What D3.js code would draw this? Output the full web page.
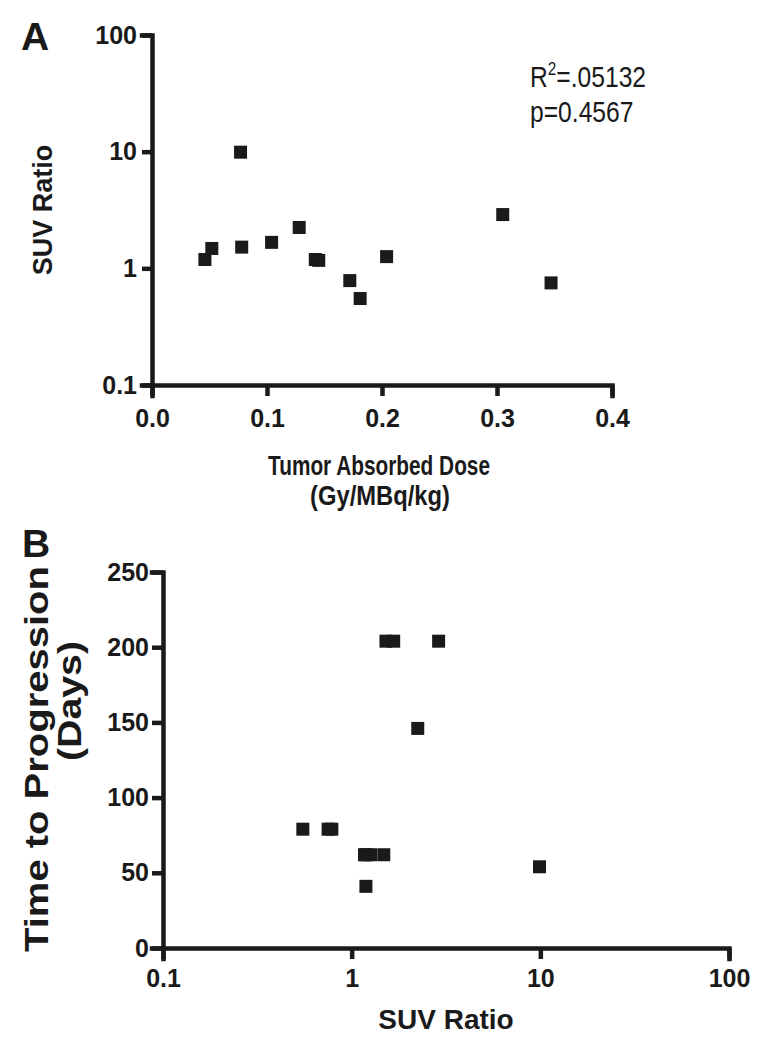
<!DOCTYPE html>
<html>
<head>
<meta charset="utf-8">
<script src="https://cdnjs.cloudflare.com/ajax/libs/d3/7.8.5/d3.min.js"></script>
<style>
  html, body { margin: 0; padding: 0; background: #fff; }
  svg { display: block; }
  text { font-family: "Liberation Sans", Arial, sans-serif; fill: #1a1a1a; }
</style>
</head>
<body>
<svg id="chart" width="767" height="1050"></svg>
<script>
// ---- Panel A data: tumor absorbed dose vs SUV ratio ----
const doseA = [0.046, 0.052, 0.077, 0.078, 0.104, 0.128, 0.142, 0.145, 0.172, 0.181, 0.204, 0.305, 0.347];
const suvA  = [1.19, 1.48, 9.9, 1.52, 1.67, 2.24, 1.19, 1.17, 0.785, 0.551, 1.26, 2.89, 0.75];
const ticksAx = [0.0, 0.1, 0.2, 0.3, 0.4];
const ticksAy = [0.1, 1, 10, 100];
const statsA = ["R", "2", "=.05132", "p=0.4567"];

// ---- Panel B data: SUV ratio vs time to progression ----
const suvB = [0.551, 0.75, 0.785, 1.17, 1.19, 1.26, 1.48, 1.19, 1.52, 1.67, 2.89, 2.24, 9.9];
const ttpB = [79, 79, 79, 62, 62, 62, 62, 41, 204, 204, 204, 146, 54];
const ticksBx = [0.1, 1, 10, 100];
const ticksBy = [0, 50, 100, 150, 200, 250];

const ink = "#1a1a1a";
const svg = d3.select("#chart");
const logFmt = d => d < 1 ? d3.format(".1f")(d) : d3.format("d")(d);

function styleAxis(g, fontSize) {
  g.select(".domain").attr("stroke", ink).attr("stroke-width", 4.5).attr("stroke-linecap", "square");
  g.selectAll(".tick line").attr("stroke", ink).attr("stroke-width", 4.5);
  g.selectAll(".tick text").attr("fill", ink).style("font-size", fontSize + "px")
    .style("font-weight", "bold").style("font-family", '"Liberation Sans", Arial, sans-serif');
}

// ===== Panel A =====
const xA = d3.scaleLinear().domain([0, 0.4]).range([152, 612]);
const yA = d3.scaleLog().domain([0.1, 100]).range([385, 35]);

svg.append("g").attr("transform", `translate(0,${yA(0.1)})`)
  .call(d3.axisBottom(xA).tickValues(ticksAx).tickFormat(d3.format(".1f")).tickSizeOuter(0).tickSize(11).tickPadding(13))
  .call(g => styleAxis(g, 25));
svg.append("g").attr("transform", `translate(${xA(0)},0)`)
  .call(d3.axisLeft(yA).tickValues(ticksAy).tickFormat(logFmt).tickSizeOuter(0).tickSize(10).tickPadding(5))
  .call(g => styleAxis(g, 25));

const ms = 13;
svg.append("g").selectAll("rect").data(doseA.map((d, i) => [d, suvA[i]])).join("rect")
  .attr("x", d => xA(d[0]) - ms / 2).attr("y", d => yA(d[1]) - ms / 2)
  .attr("width", ms).attr("height", ms).attr("fill", ink);

svg.append("text").attr("x", 21).attr("y", 50).style("font-size", "39px").style("font-weight", "bold").text("A");
svg.append("text").attr("transform", `translate(52,${(yA(0.1) + yA(100)) / 2}) rotate(-90)`)
  .attr("text-anchor", "middle").style("font-size", "27px").style("font-weight", "bold").text("SUV Ratio");
const cxA = (xA(0) + xA(0.4)) / 2;
svg.append("text").attr("x", cxA - 3).attr("y", 475).attr("text-anchor", "middle")
  .attr("textLength", 222).attr("lengthAdjust", "spacingAndGlyphs")
  .style("font-size", "28px").style("font-weight", "bold").text("Tumor Absorbed Dose");
svg.append("text").attr("x", cxA - 2).attr("y", 505).attr("text-anchor", "middle")
  .attr("textLength", 140).attr("lengthAdjust", "spacingAndGlyphs")
  .style("font-size", "28px").style("font-weight", "bold").text("(Gy/MBq/kg)");

const stg = svg.append("g").attr("transform", "translate(530,0) scale(0.85,1)");
const st = stg.append("text").attr("x", 0).attr("y", 87).style("font-size", "29px");
st.append("tspan").text(statsA[0]);
st.append("tspan").attr("dy", -12).style("font-size", "18px").text(statsA[1]);
st.append("tspan").attr("dy", 12).text(statsA[2]);
stg.append("text").attr("x", 0).attr("y", 122).style("font-size", "29px").text(statsA[3]);

// ===== Panel B =====
const xB = d3.scaleLog().domain([0.1, 100]).range([163, 729]);
const yB = d3.scaleLinear().domain([0, 250]).range([948, 572]);

svg.append("g").attr("transform", `translate(0,${yB(0)})`)
  .call(d3.axisBottom(xB).tickValues(ticksBx).tickFormat(logFmt).tickSizeOuter(0).tickSize(11).tickPadding(10))
  .call(g => styleAxis(g, 25));
svg.append("g").attr("transform", `translate(${xB(0.1)},0)`)
  .call(d3.axisLeft(yB).tickValues(ticksBy).tickFormat(d3.format("d")).tickSizeOuter(0).tickSize(11).tickPadding(3))
  .call(g => styleAxis(g, 25));

svg.append("g").selectAll("rect").data(suvB.map((d, i) => [d, ttpB[i]])).join("rect")
  .attr("x", d => xB(d[0]) - ms / 2).attr("y", d => yB(d[1]) - ms / 2)
  .attr("width", ms).attr("height", ms).attr("fill", ink);

svg.append("text").attr("x", 22).attr("y", 557).style("font-size", "39px").style("font-weight", "bold").text("B");
svg.append("text").attr("transform", `translate(48,759) rotate(-90)`)
  .attr("text-anchor", "middle").attr("textLength", 386).attr("lengthAdjust", "spacingAndGlyphs")
  .style("font-size", "34px").style("font-weight", "bold").text("Time to Progression");
svg.append("text").attr("transform", `translate(81,701) rotate(-90)`)
  .attr("text-anchor", "middle").attr("textLength", 120).attr("lengthAdjust", "spacingAndGlyphs")
  .style("font-size", "34px").style("font-weight", "bold").text("(Days)");
svg.append("text").attr("x", (xB(0.1) + xB(100)) / 2).attr("y", 1029).attr("text-anchor", "middle")
  .style("font-size", "28px").style("font-weight", "bold").text("SUV Ratio");
</script>
</body>
</html>
